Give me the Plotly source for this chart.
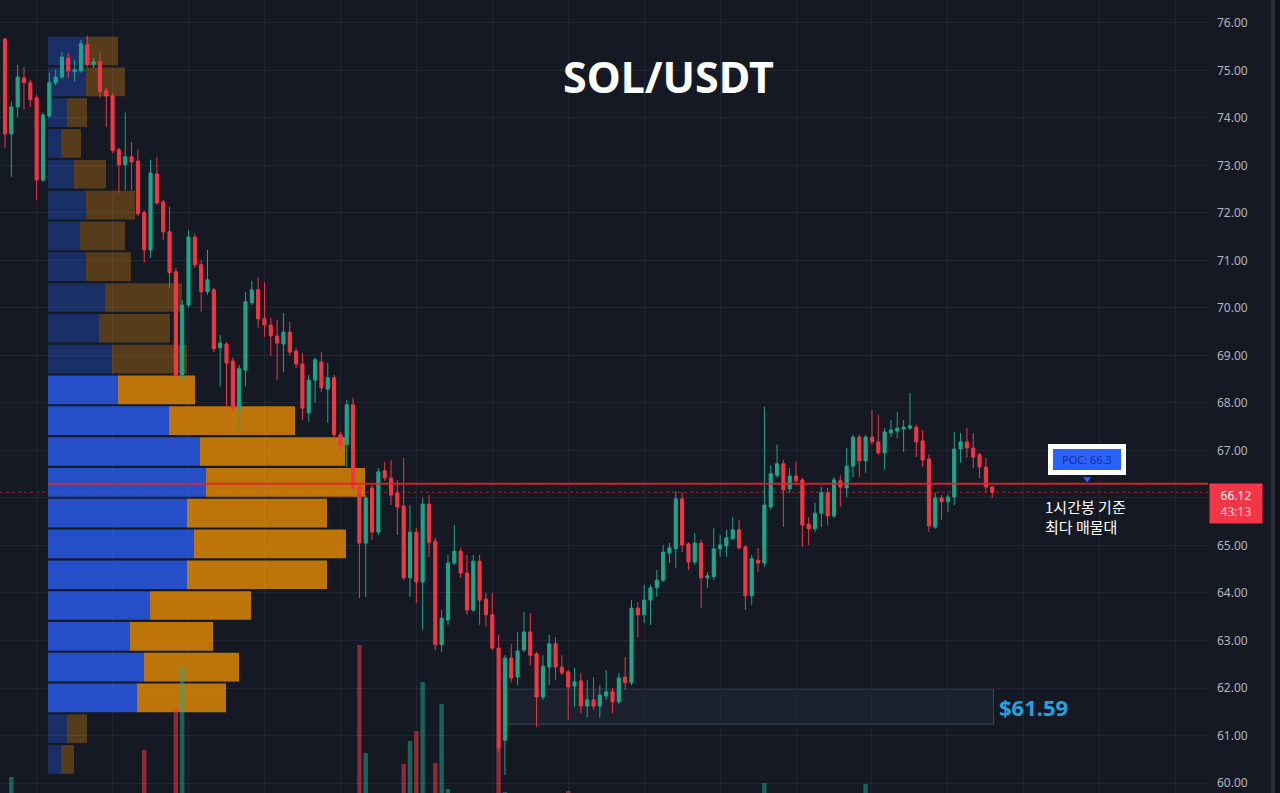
import plotly.graph_objects as go
import pandas as pd

# ---------------- data ----------------
symbol = "SOL/USDT"
start_time = "2026-02-01 19:00"   # first hourly candle

opens = [75.66, 73.66, 74.23, 74.84, 74.74, 74.42, 72.69, 74.04, 74.74, 74.86,
         75.26, 74.97, 74.99, 75.54, 75.12, 75.18, 74.57, 74.46, 73.33, 73.01,
         73.18, 73.09, 72.00, 71.22, 72.82, 72.23, 71.60, 70.76, 68.59, 70.06,
         71.49, 70.91, 70.34, 70.38, 69.16, 69.24, 68.88, 67.89, 68.69, 70.11,
         70.38, 69.77, 69.64, 69.41, 69.24, 69.49, 69.09, 68.82, 67.79, 68.48,
         68.86, 68.29, 68.53, 67.33, 67.12, 67.96, 66.23, 65.05, 66.21, 65.28,
         66.57, 66.42, 66.11, 65.83, 64.32, 65.28, 64.23, 65.87, 65.09, 62.91,
         63.43, 64.63, 64.88, 64.42, 63.64, 64.67, 63.87, 63.54, 62.84, 60.90,
         62.63, 62.23, 62.80, 63.18, 62.72, 61.81, 62.44, 62.93, 62.44, 62.34,
         62.04, 62.15, 61.62, 61.75, 61.62, 61.83, 61.92, 61.71, 62.23, 62.11,
         63.68, 63.54, 63.85, 64.11, 64.27, 64.84, 64.93, 65.98, 65.03, 64.65,
         65.05, 64.32, 64.34, 64.93, 64.99, 65.14, 65.33, 64.97, 63.94, 64.69,
         64.63, 65.81, 66.48, 66.72, 66.19, 66.46, 66.38, 65.45, 65.35, 65.68,
         66.11, 65.62, 66.36, 66.21, 66.67, 67.28, 66.78, 67.28, 67.18, 66.95,
         67.37, 67.41, 67.45, 67.47, 67.49, 67.20, 66.82, 65.39, 66.00, 65.92,
         66.02, 67.03, 67.18, 67.05, 66.91, 66.65, 66.23]

highs = [75.68, 74.34, 75.12, 75.07, 74.80, 74.48, 74.11, 74.95, 75.01, 75.39,
         75.37, 75.22, 75.64, 75.73, 75.26, 75.37, 74.63, 74.51, 73.37, 74.11,
         73.49, 73.33, 72.06, 73.12, 73.18, 72.27, 72.13, 70.84, 70.17, 71.64,
         71.56, 71.01, 71.22, 70.42, 69.43, 69.28, 68.95, 68.80, 70.34, 70.57,
         70.65, 70.53, 69.79, 69.75, 69.89, 69.71, 69.16, 69.05, 68.59, 68.95,
         69.07, 68.84, 68.59, 67.39, 68.06, 68.11, 66.32, 66.06, 66.27, 66.63,
         66.76, 66.80, 66.38, 66.84, 65.85, 65.37, 66.00, 66.06, 65.16, 63.64,
         64.80, 65.43, 64.95, 64.80, 64.80, 64.80, 64.00, 64.00, 63.12, 62.69,
         62.92, 63.18, 63.60, 63.58, 62.76, 62.69, 63.12, 63.07, 62.69, 62.38,
         62.42, 62.32, 62.17, 62.23, 62.06, 62.38, 62.00, 62.32, 62.65, 63.85,
         63.81, 64.17, 64.17, 64.48, 65.01, 65.05, 66.13, 66.11, 65.07, 65.26,
         65.12, 64.44, 65.37, 65.22, 65.33, 65.60, 65.54, 65.01, 64.80, 64.95,
         67.92, 66.69, 67.12, 66.80, 66.63, 66.76, 66.42, 65.60, 65.90, 66.23,
         66.21, 66.44, 66.48, 67.05, 67.33, 67.33, 67.33, 67.85, 67.75, 67.47,
         67.64, 67.81, 67.64, 68.21, 67.54, 67.43, 66.91, 66.11, 66.06, 66.08,
         67.39, 67.37, 67.47, 67.37, 66.95, 66.84, 66.25]

lows = [73.37, 72.76, 74.02, 74.17, 74.23, 72.27, 72.65, 74.00, 74.69, 74.82,
        74.84, 74.76, 74.95, 75.07, 75.05, 74.42, 73.81, 73.26, 72.42, 72.48,
        72.48, 71.94, 70.95, 71.05, 72.17, 71.43, 70.42, 68.53, 68.48, 70.00,
        70.84, 69.92, 70.27, 69.07, 68.34, 67.92, 67.81, 67.39, 68.34, 70.06,
        69.58, 69.39, 68.99, 68.48, 68.65, 68.99, 68.74, 67.64, 67.60, 68.00,
        68.23, 67.58, 67.26, 67.01, 66.65, 66.17, 63.89, 63.92, 65.12, 65.22,
        66.36, 65.85, 65.22, 64.27, 63.92, 63.79, 63.22, 64.76, 62.80, 62.76,
        63.33, 64.59, 64.32, 63.54, 63.60, 63.33, 63.28, 62.80, 60.65, 60.17,
        62.11, 62.06, 62.76, 62.48, 61.18, 61.75, 62.06, 62.17, 62.27, 61.33,
        61.60, 61.47, 61.39, 61.54, 61.37, 61.75, 61.47, 61.66, 61.96, 62.06,
        63.07, 63.37, 63.33, 63.92, 64.23, 64.63, 64.53, 64.86, 64.48, 64.59,
        63.68, 64.11, 64.27, 64.76, 64.76, 65.12, 64.91, 63.64, 63.75, 64.44,
        64.55, 65.75, 66.42, 65.39, 66.11, 66.32, 64.97, 65.01, 65.28, 65.39,
        65.43, 65.58, 65.81, 66.02, 66.44, 66.44, 66.53, 67.12, 66.91, 66.59,
        67.28, 67.26, 66.97, 67.43, 66.86, 66.65, 65.28, 65.35, 65.54, 65.71,
        65.85, 66.74, 66.84, 66.63, 66.42, 66.11, 66.00]

closes = [73.66, 74.23, 74.86, 74.74, 74.38, 72.69, 74.06, 74.74, 74.86, 75.28,
          74.99, 75.01, 75.56, 75.12, 75.18, 74.55, 74.46, 73.31, 73.01, 73.18,
          73.07, 71.98, 71.22, 72.84, 72.21, 71.60, 70.74, 68.59, 70.06, 71.49,
          70.91, 70.34, 70.59, 69.14, 69.26, 68.84, 67.89, 68.72, 70.13, 70.38,
          69.77, 69.64, 69.41, 69.26, 69.49, 69.07, 68.82, 67.89, 68.48, 68.91,
          68.32, 68.53, 67.33, 67.12, 67.96, 66.23, 65.05, 66.00, 65.28, 66.55,
          66.42, 66.06, 65.81, 64.32, 65.28, 64.23, 65.87, 65.07, 62.91, 63.47,
          64.63, 64.88, 64.42, 63.64, 64.67, 63.85, 63.54, 62.84, 60.74, 62.63,
          62.21, 62.78, 63.18, 62.69, 61.81, 62.46, 62.93, 62.44, 62.32, 62.02,
          62.13, 61.62, 61.75, 61.62, 61.85, 61.92, 61.71, 62.21, 62.11, 63.68,
          63.54, 63.85, 64.11, 64.27, 64.86, 64.95, 65.98, 65.01, 64.65, 65.05,
          64.32, 64.36, 64.93, 65.01, 65.16, 65.33, 64.95, 63.94, 64.72, 64.63,
          65.85, 66.51, 66.72, 66.17, 66.46, 66.36, 65.43, 65.35, 65.68, 66.11,
          65.62, 66.38, 66.23, 66.67, 67.28, 66.78, 67.28, 67.18, 66.95, 67.39,
          67.43, 67.47, 67.49, 67.52, 67.18, 66.80, 65.41, 66.00, 65.92, 66.02,
          67.03, 67.18, 67.05, 66.86, 66.65, 66.23, 66.12]

# hourly volume (K SOL)
volumes = [310, 432, 280, 190, 170, 360, 300, 240, 150, 220,
           180, 120, 260, 240, 110, 250, 160, 330, 210, 230,
           140, 350, 486, 390, 270, 250, 330, 570, 650, 380,
           220, 240, 200, 310, 180, 230, 290, 300, 360, 170,
           220, 160, 180, 200, 170, 190, 140, 280, 230, 190,
           200, 210, 300, 150, 270, 380, 696, 480, 350, 340,
           190, 200, 230, 458, 504, 524, 622, 330, 460, 578,
           408, 260, 230, 300, 320, 290, 220, 310, 490, 402,
           280, 260, 240, 230, 350, 250, 220, 200, 150, 404,
           180, 220, 170, 160, 170, 140, 150, 200, 140, 390,
           200, 210, 190, 170, 250, 130, 360, 300, 190, 180,
           260, 120, 220, 130, 140, 150, 170, 310, 240, 120,
           420, 330, 250, 280, 170, 140, 300, 150, 170, 200,
           190, 230, 150, 210, 260, 220, 418, 200, 180, 190,
           110, 130, 120, 170, 160, 190, 380, 250, 130, 120,
           280, 150, 140, 150, 170, 200, 90]

# volume profile (24 rows, top -> bottom), buy / sell volume
profile_buy = [380, 380, 190, 130, 260, 380, 320, 380, 570, 510, 640, 700,
               1210, 1520, 1580, 1390, 1460, 1390, 1020, 820, 960, 890, 190, 130]
profile_sell = [320, 390, 200, 200, 320, 490, 450, 450, 770, 710, 750, 770,
                1260, 1450, 1590, 1400, 1520, 1400, 1010, 830, 950, 890, 200, 130]
value_area_rows = (11, 21)   # rows (from top) inside the value area

poc_price = 66.3
last_price = 66.12
countdown = "43:13"
zone_low, zone_high = 61.24, 61.98
zone_label = "$61.59"
zone_start_idx = 79
poc_note = "1시간봉 기준<br>최다 매물대"
price_ticks = list(range(60, 77))

# ---------------- derived ----------------
n = len(opens)
times = pd.date_range(start_time, periods=n, freq="h")
hour = pd.Timedelta(hours=1)
t0 = times[0]

lo, hi = min(lows), max(highs)
nrows = len(profile_buy)
rowh = (hi - lo) / nrows
row_centers = [hi - rowh * (k + 0.5) for k in range(nrows)]
in_va = [value_area_rows[0] <= k <= value_area_rows[1] for k in range(nrows)]
buy_colors = ["rgba(41,98,255,0.75)" if v else "rgba(41,98,255,0.30)" for v in in_va]
sell_colors = ["rgba(255,152,0,0.72)" if v else "rgba(255,152,0,0.28)" for v in in_va]

UP = "#1ea58a"
DOWN = "#f23645"
vol_colors = ["rgba(34,171,148,0.5)" if c >= o else "rgba(242,54,69,0.55)"
              for o, c in zip(opens, closes)]

BG = "#151924"
GRID = "#222633"

W, H = 1280, 793
PLOT_W = 1208

fig = go.Figure()

# volume profile (main x = volume, y = price)
fig.add_trace(go.Bar(y=row_centers, x=profile_buy, base=[0] * nrows, orientation="h",
                     width=rowh * 0.93, marker=dict(color=buy_colors, line=dict(width=0)),
                     xaxis="x", yaxis="y", showlegend=False, hoverinfo="skip"))
fig.add_trace(go.Bar(y=row_centers, x=profile_sell, base=profile_buy, orientation="h",
                     width=rowh * 0.93, marker=dict(color=sell_colors, line=dict(width=0)),
                     xaxis="x", yaxis="y", showlegend=False, hoverinfo="skip"))

# candles
fig.add_trace(go.Candlestick(x=times, open=opens, high=highs, low=lows, close=closes,
                             xaxis="x2", yaxis="y",
                             increasing=dict(line=dict(color=UP, width=1), fillcolor=UP),
                             decreasing=dict(line=dict(color=DOWN, width=1), fillcolor=DOWN),
                             whiskerwidth=0, showlegend=False))

# POC pointer marker
poc_label_t = t0 + 171 * hour
fig.add_trace(go.Scatter(x=[poc_label_t], y=[66.40], mode="markers",
                         marker=dict(symbol="triangle-down", size=7, color="#2962ff"),
                         xaxis="x2", yaxis="y", showlegend=False, hoverinfo="skip"))

# volume bars
fig.add_trace(go.Bar(x=times, y=volumes, marker=dict(color=vol_colors, line=dict(width=0)),
                     width=0.7 * 3600 * 1000, xaxis="x2", yaxis="y2",
                     showlegend=False, hoverinfo="skip"))

shapes = []
# support zone
shapes.append(dict(type="rect", xref="x2", yref="y",
                   x0=t0 + (zone_start_idx + 0.2) * hour, x1=t0 + (n - 1 + 0.2) * hour,
                   y0=zone_low, y1=zone_high,
                   fillcolor="rgba(110,130,165,0.08)", line=dict(color="#3b4658", width=1),
                   layer="below"))
# last price dotted line
shapes.append(dict(type="line", xref="paper", yref="y", x0=0, x1=1,
                   y0=last_price, y1=last_price,
                   line=dict(color="rgba(242,54,69,0.6)", width=1, dash="dot"), layer="below"))
# POC line
shapes.append(dict(type="line", xref="x", yref="y", x0=0, x1=11600,
                   y0=poc_price, y1=poc_price,
                   line=dict(color="rgba(225,35,45,0.9)", width=2), layer="above"))
# right panel border
shapes.append(dict(type="rect", xref="paper", yref="paper", x0=1271 / PLOT_W, x1=1275 / PLOT_W,
                   y0=0, y1=1, fillcolor="#2a2e39", line=dict(width=0), layer="above"))
shapes.append(dict(type="rect", xref="paper", yref="paper", x0=1275 / PLOT_W, x1=1281 / PLOT_W,
                   y0=0, y1=1, fillcolor="#0e1016", line=dict(width=0), layer="above"))

annotations = [
    dict(text=f"<b>{symbol}</b>", xref="paper", yref="paper", x=668 / PLOT_W, y=1 - 77 / H,
         xanchor="center", yanchor="middle", showarrow=False,
         font=dict(family="Noto Sans", size=43, color="#ffffff")),
    dict(text=f"POC: {poc_price}", xref="x2", yref="y", x=poc_label_t, y=66.80,
         xanchor="center", yanchor="middle", showarrow=False,
         font=dict(family="Noto Sans", size=11, color="#1c2f8c"),
         bgcolor="#2962ff", bordercolor="#ffffff", borderwidth=5, borderpad=3,
         width=62, height=15),
    dict(text=poc_note, xref="x2", yref="y", x=t0 + 164.0 * hour, y=65.62,
         xanchor="left", yanchor="middle", align="left", showarrow=False,
         font=dict(family="Noto Sans CJK KR", size=15, color="#ffffff")),
    dict(text=f"<b>{zone_label}</b>", xref="x2", yref="y", x=t0 + (n - 1 + 0.2) * hour,
         y=(zone_low + zone_high) / 2, xanchor="left", yanchor="middle", xshift=4,
         showarrow=False, font=dict(family="Noto Sans", size=22, color="#27a2e0")),
    dict(text=f"{last_price:.2f}<br><span style='color:#ffd6da'>{countdown}</span>",
         xref="paper", yref="y", x=1, y=last_price, xanchor="left", yanchor="top",
         xshift=1, yshift=9, showarrow=False, align="center",
         font=dict(family="Noto Sans", size=12, color="#ffffff"),
         bgcolor=DOWN, borderpad=3, width=46),
]

fig.update_layout(
    width=W, height=H,
    margin=dict(l=0, r=W - PLOT_W, t=0, b=0),
    paper_bgcolor=BG, plot_bgcolor=BG,
    barmode="overlay", boxgap=0.3,
    showlegend=False,
    shapes=shapes, annotations=annotations,
    xaxis=dict(range=[-480, 11600], visible=False, fixedrange=True),
    yaxis=dict(range=[59.79, 76.48], side="right", tickvals=price_ticks,
               ticktext=["" if abs(v - last_price) < 0.5 else f"{v:.2f}" for v in price_ticks],
               showgrid=True, gridcolor=GRID, gridwidth=1, zeroline=False, showline=False,
               ticks="", ticklabelstandoff=8,
               tickfont=dict(family="Noto Sans", size=12, color="#b2b5be")),
    xaxis2=dict(overlaying="x", type="date", anchor="y",
                range=[t0 - 0.79 * hour, t0 + 190.1 * hour],
                showticklabels=False, showgrid=True, gridcolor=GRID, gridwidth=1,
                tick0="2026-02-02 00:00", dtick=12 * 3600 * 1000, ticks="",
                zeroline=False, showline=False, rangeslider=dict(visible=False)),
    yaxis2=dict(overlaying="y", anchor="x2", range=[400, 400 + 2 * H], visible=False,
                showgrid=False),
)

fig.write_html("out.html")
